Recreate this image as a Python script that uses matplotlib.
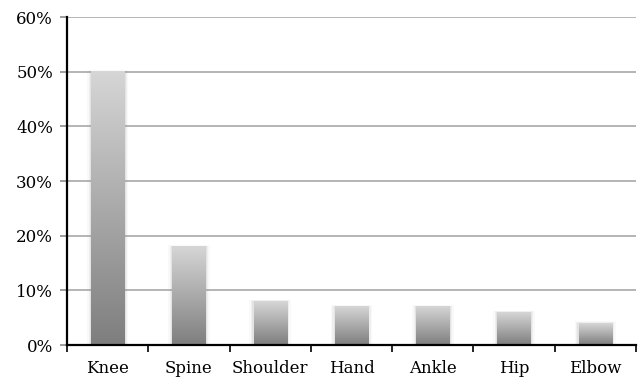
import numpy as np
import matplotlib
matplotlib.use("Agg")
import matplotlib.pyplot as plt
from matplotlib.patches import Rectangle
from matplotlib.colors import LinearSegmentedColormap

categories = ["Knee", "Spine", "Shoulder", "Hand", "Ankle", "Hip", "Elbow"]
values = [50, 18, 8, 7, 7, 6, 4]  # percent
yticks = [0, 10, 20, 30, 40, 50, 60]
ytick_labels = ["0%", "10%", "20%", "30%", "40%", "50%", "60%"]

plt.rcParams["font.family"] = ["DejaVu Serif"]

fig = plt.figure(figsize=(6.38, 3.77), dpi=100)
ax = fig.add_axes([67 / 638, 1 - 345 / 377, (636 - 67) / 638, (345 - 17) / 377])

# vertical gray gradient: light at the top of each bar, dark at its base
cmap = LinearSegmentedColormap.from_list("bargrad", ["#7e7e7e", "#d6d6d6"])
grad = np.linspace(0, 1, 256).reshape(-1, 1)

bar_w = 0.41
for i, v in enumerate(values):
    # soft shadow halo around the bar
    for pad, a in [(0.05, 0.06), (0.03, 0.10), (0.015, 0.14)]:
        ax.add_patch(Rectangle((i - bar_w / 2 - pad, 0), bar_w + 2 * pad, v + pad * 6,
                               facecolor="#9a9a9a", edgecolor="none", alpha=a, zorder=2))
    ax.imshow(grad, cmap=cmap, origin="lower", aspect="auto",
              extent=(i - bar_w / 2, i + bar_w / 2, 0, v), zorder=3,
              interpolation="bilinear")

ax.set_xlim(-0.5, len(categories) - 0.5)
ax.set_ylim(0, 60)

ax.set_yticks(yticks)
ax.set_yticklabels(ytick_labels, fontsize=12)
ax.yaxis.grid(True, color="#a8a8a8", linewidth=1.2, zorder=1)
ax.set_axisbelow(True)

ax.set_xticks(range(len(categories)))
ax.set_xticklabels(categories, fontsize=12)
ax.set_xticks(np.arange(-0.5, len(categories), 1.0), minor=True)
ax.tick_params(axis="x", which="major", length=0, pad=11)
ax.tick_params(axis="x", which="minor", length=5, width=1.2, color="black", direction="out")
ax.tick_params(axis="y", which="major", length=5, width=1.2, color="#8c8c8c", direction="out", pad=5)

for s in ["top", "right"]:
    ax.spines[s].set_visible(False)
for s in ["left", "bottom"]:
    ax.spines[s].set_linewidth(1.6)
    ax.spines[s].set_color("black")
    ax.spines[s].set_zorder(5)

fig.savefig("out.png", dpi=100)
